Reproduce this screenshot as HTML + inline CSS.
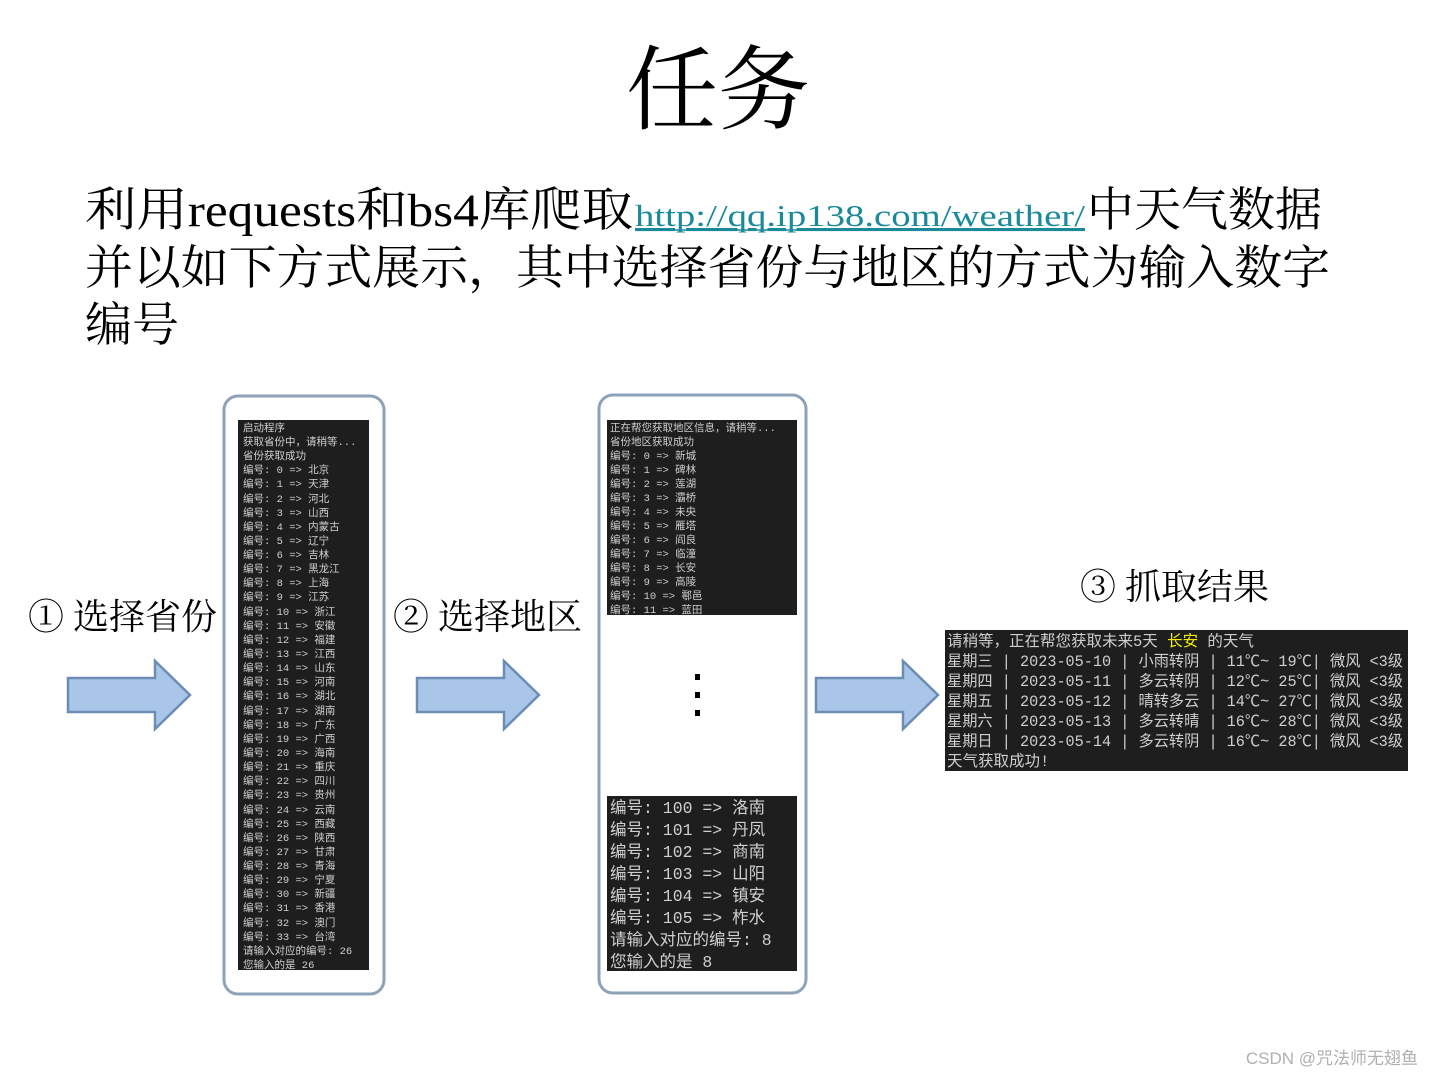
<!DOCTYPE html>
<html><head><meta charset="utf-8"><style>
html,body{margin:0;padding:0;background:#fff;}
svg{display:block;}
.t{font-family:"Liberation Mono","Noto Sans CJK SC",monospace;fill:#cfcfcf;}
.s{font-family:"Liberation Serif","Noto Serif CJK SC",serif;fill:#000;}
</style></head><body>
<svg width="1433" height="1077" viewBox="0 0 1433 1077" xmlns="http://www.w3.org/2000/svg">
<text class="s" x="718" y="122" font-size="92" text-anchor="middle">任务</text>
<text class="s" x="85" y="226" font-size="47"><tspan textLength="548" lengthAdjust="spacingAndGlyphs">利用requests和bs4库爬取</tspan></text>
<text x="635" y="226" font-size="31" font-family="Liberation Serif,serif" fill="#1a8a9a" textLength="450" lengthAdjust="spacingAndGlyphs" text-decoration="underline">http://qq.ip138.com/weather/</text>
<line x1="635" y1="230" x2="1085" y2="230" stroke="#1a8a9a" stroke-width="1.5"/>
<text class="s" x="1087" y="226" font-size="47" textLength="235" lengthAdjust="spacingAndGlyphs">中天气数据</text>
<text class="s" x="85" y="284" font-size="47" textLength="1245" lengthAdjust="spacingAndGlyphs">并以如下方式展示，其中选择省份与地区的方式为输入数字</text>
<text class="s" x="85" y="341" font-size="47">编号</text>

<text class="s" x="28" y="629" font-size="36">① 选择省份</text>
<text class="s" x="393" y="629" font-size="36">② 选择地区</text>
<text class="s" x="1080" y="599" font-size="36">③ 抓取结果</text>

<g fill="#a9c6e8" stroke="#6b8db5" stroke-width="2.5">
<polygon points="68,678 155,678 155,661 190,695 155,729 155,712 68,712"/>
<polygon points="417,678 504,678 504,661 539,695 504,729 504,712 417,712"/>
<polygon points="816,678 903,678 903,661 938,695 903,729 903,712 816,712"/>
</g>

<rect x="224" y="396" width="160" height="598" rx="14" fill="#fff" stroke="#8ea2b8" stroke-width="3"/>
<rect x="599" y="395" width="207" height="598" rx="14" fill="#fff" stroke="#8ea2b8" stroke-width="3"/>

<rect x="238" y="420" width="131" height="550" fill="#1e1e1e"/>
<g class="t" font-size="10.5">
<text x="243" y="431">启动程序</text>
<text x="243" y="445">获取省份中，请稍等...</text>
<text x="243" y="459">省份获取成功</text>
<text x="243" y="473">编号: 0 => 北京</text>
<text x="243" y="487">编号: 1 => 天津</text>
<text x="243" y="502">编号: 2 => 河北</text>
<text x="243" y="516">编号: 3 => 山西</text>
<text x="243" y="530">编号: 4 => 内蒙古</text>
<text x="243" y="544">编号: 5 => 辽宁</text>
<text x="243" y="558">编号: 6 => 吉林</text>
<text x="243" y="572">编号: 7 => 黑龙江</text>
<text x="243" y="586">编号: 8 => 上海</text>
<text x="243" y="600">编号: 9 => 江苏</text>
<text x="243" y="615">编号: 10 => 浙江</text>
<text x="243" y="629">编号: 11 => 安徽</text>
<text x="243" y="643">编号: 12 => 福建</text>
<text x="243" y="657">编号: 13 => 江西</text>
<text x="243" y="671">编号: 14 => 山东</text>
<text x="243" y="685">编号: 15 => 河南</text>
<text x="243" y="699">编号: 16 => 湖北</text>
<text x="243" y="714">编号: 17 => 湖南</text>
<text x="243" y="728">编号: 18 => 广东</text>
<text x="243" y="742">编号: 19 => 广西</text>
<text x="243" y="756">编号: 20 => 海南</text>
<text x="243" y="770">编号: 21 => 重庆</text>
<text x="243" y="784">编号: 22 => 四川</text>
<text x="243" y="798">编号: 23 => 贵州</text>
<text x="243" y="813">编号: 24 => 云南</text>
<text x="243" y="827">编号: 25 => 西藏</text>
<text x="243" y="841">编号: 26 => 陕西</text>
<text x="243" y="855">编号: 27 => 甘肃</text>
<text x="243" y="869">编号: 28 => 青海</text>
<text x="243" y="883">编号: 29 => 宁夏</text>
<text x="243" y="897">编号: 30 => 新疆</text>
<text x="243" y="911">编号: 31 => 香港</text>
<text x="243" y="926">编号: 32 => 澳门</text>
<text x="243" y="940">编号: 33 => 台湾</text>
<text x="243" y="954">请输入对应的编号: 26</text>
<text x="243" y="968">您输入的是 26</text>
</g>

<rect x="607" y="420" width="190" height="195" fill="#1e1e1e"/>
<g class="t" font-size="10.5">
<text x="610" y="431">正在帮您获取地区信息，请稍等...</text>
<text x="610" y="445">省份地区获取成功</text>
<text x="610" y="459">编号: 0 => 新城</text>
<text x="610" y="473">编号: 1 => 碑林</text>
<text x="610" y="487">编号: 2 => 莲湖</text>
<text x="610" y="501">编号: 3 => 灞桥</text>
<text x="610" y="515">编号: 4 => 未央</text>
<text x="610" y="529">编号: 5 => 雁塔</text>
<text x="610" y="543">编号: 6 => 阎良</text>
<text x="610" y="557">编号: 7 => 临潼</text>
<text x="610" y="571">编号: 8 => 长安</text>
<text x="610" y="585">编号: 9 => 高陵</text>
<text x="610" y="599">编号: 10 => 鄠邑</text>
<text x="610" y="613">编号: 11 => 蓝田</text>
</g>

<g fill="#000"><rect x="695" y="674" width="5" height="6"/><rect x="695" y="692" width="5" height="6"/><rect x="695" y="710" width="5" height="6"/></g>

<rect x="607" y="796" width="190" height="175" fill="#1e1e1e"/>
<g class="t" font-size="16.5">
<text x="610" y="813">编号: 100 => 洛南</text>
<text x="610" y="835">编号: 101 => 丹凤</text>
<text x="610" y="857">编号: 102 => 商南</text>
<text x="610" y="879">编号: 103 => 山阳</text>
<text x="610" y="901">编号: 104 => 镇安</text>
<text x="610" y="923">编号: 105 => 柞水</text>
<text x="610" y="945">请输入对应的编号: 8</text>
<text x="610" y="967">您输入的是 8</text>
</g>

<rect x="945" y="630" width="463" height="141" fill="#1e1e1e"/>
<g class="t" font-size="15.5">
<text x="947" y="646">请稍等，正在帮您获取未来5天 <tspan fill="#f0f000">长安</tspan> 的天气</text>
<text x="947" y="666" textLength="456" lengthAdjust="spacingAndGlyphs">星期三 | 2023-05-10 | 小雨转阴 | 11℃~  19℃| 微风 &lt;3级</text>
<text x="947" y="686" textLength="456" lengthAdjust="spacingAndGlyphs">星期四 | 2023-05-11 | 多云转阴 | 12℃~  25℃| 微风 &lt;3级</text>
<text x="947" y="706" textLength="456" lengthAdjust="spacingAndGlyphs">星期五 | 2023-05-12 | 晴转多云 | 14℃~  27℃| 微风 &lt;3级</text>
<text x="947" y="726" textLength="456" lengthAdjust="spacingAndGlyphs">星期六 | 2023-05-13 | 多云转晴 | 16℃~  28℃| 微风 &lt;3级</text>
<text x="947" y="746" textLength="456" lengthAdjust="spacingAndGlyphs">星期日 | 2023-05-14 | 多云转阴 | 16℃~  28℃| 微风 &lt;3级</text>
<text x="947" y="766">天气获取成功!</text>
</g>

<text x="1418" y="1064" font-size="17" text-anchor="end" fill="#b0b0b0" font-family="Liberation Sans,Noto Sans CJK SC,sans-serif">CSDN @咒法师无翅鱼</text>
</svg>
</body></html>
